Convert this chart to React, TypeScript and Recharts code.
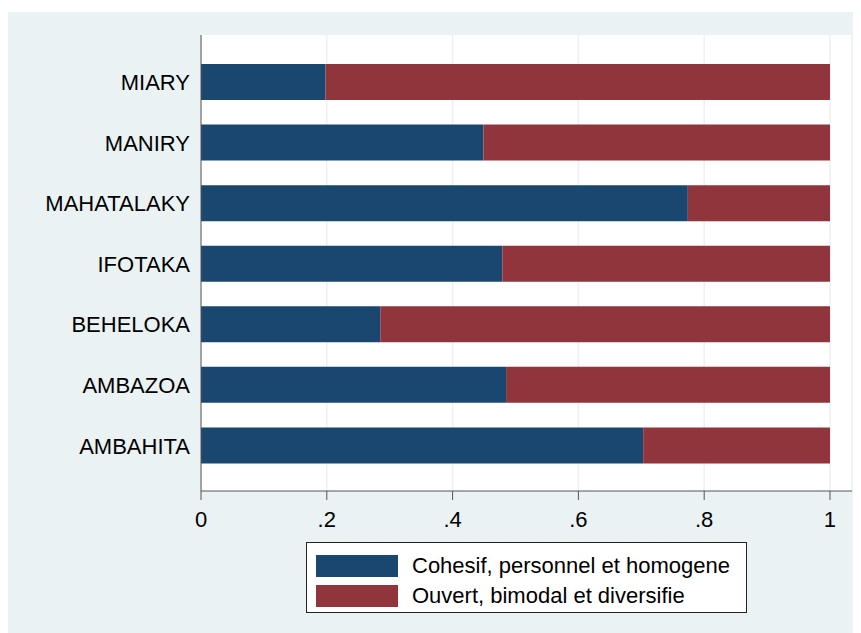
import { BarChart, Bar, XAxis, YAxis, CartesianGrid, Legend } from "recharts";

const sites = ["MIARY", "MANIRY", "MAHATALAKY", "IFOTAKA", "BEHELOKA", "AMBAZOA", "AMBAHITA"];
const cohesif = [0.198, 0.449, 0.774, 0.479, 0.285, 0.485, 0.703];
const ouvert = [0.802, 0.551, 0.226, 0.521, 0.715, 0.515, 0.297];
const xTicks = [0, 0.2, 0.4, 0.6, 0.8, 1];

const NAVY = "#1a476f";
const MAROON = "#90353b";
const FONT = '"Liberation Sans", Arial, sans-serif';

const data = sites.map((name, i) => ({ name, cohesif: cohesif[i], ouvert: ouvert[i] }));

const fmt = (v: number) => (v === 0 ? "0" : v === 1 ? "1" : String(v).replace(/^0/, ""));

const LegendBox = ({ payload }: any) => (
  <div
    style={{
      boxSizing: "border-box",
      width: 441,
      height: 71,
      background: "#fff",
      border: "1px solid #222",
      padding: "8px 0 0 9px",
      fontFamily: FONT,
      fontSize: 22,
      color: "#000",
    }}
  >
    {(payload || []).map((p: any) => (
      <div key={p.value} style={{ display: "flex", alignItems: "center", height: 30 }}>
        <span style={{ width: 82, height: 22, background: p.color, marginRight: 14 }} />
        <span>{p.value}</span>
      </div>
    ))}
  </div>
);

export default function App() {
  return (
    <div style={{ marginTop: 4, width: 853, height: 621, background: "#eaf2f3", position: "relative" }}>
      <style>{`body{overflow:hidden}`}</style>
      <BarChart
        width={853}
        height={621}
        data={data}
        layout="vertical"
        margin={{ top: 23, right: 9, bottom: 102, left: 0 }}
        barSize={36}
      >
        <CartesianGrid horizontal={false} stroke="#eaf2f3" fill="#ffffff" strokeWidth={1.5} />
        <XAxis
          type="number"
          domain={[0, 1.035]}
          ticks={xTicks}
          tickFormatter={fmt}
          height={40}
          stroke="#555"
          tickSize={9}
          tickMargin={11}
          tick={{ fill: "#000", fontSize: 22, fontFamily: FONT }}
        />
        <YAxis
          type="category"
          dataKey="name"
          width={193}
          stroke="#555"
          tickLine={false}
          tickSize={0}
          tickMargin={11}
          padding={{ top: 17, bottom: 15 }}
          tick={{ fill: "#000", fontSize: 22, fontFamily: FONT }}
        />
        <Legend
          layout="horizontal"
          verticalAlign="middle"
          align="center"
          wrapperStyle={{ left: 298, top: 530, width: 441 }}
          content={<LegendBox />}
        />
        <Bar dataKey="cohesif" name="Cohesif, personnel et homogene" stackId="a" fill={NAVY} isAnimationActive={false} />
        <Bar dataKey="ouvert" name="Ouvert, bimodal et diversifie" stackId="a" fill={MAROON} isAnimationActive={false} />
      </BarChart>
    </div>
  );
}
